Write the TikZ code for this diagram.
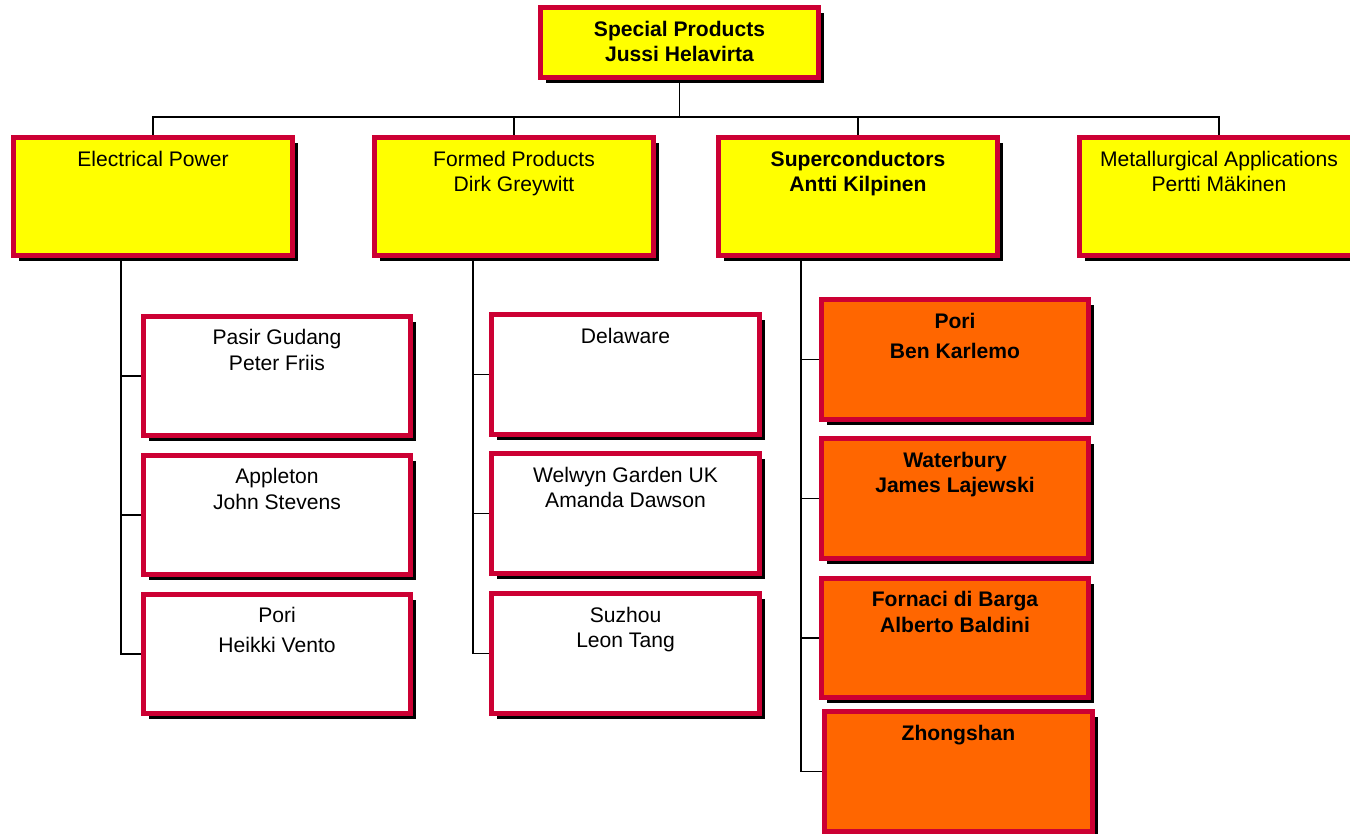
\documentclass[tikz,border=0pt]{standalone}
\usepackage{fontspec}
\setmainfont{Liberation Sans}
\usetikzlibrary{shadows,backgrounds}
\definecolor{rim}{HTML}{CC0033}
\definecolor{gold}{HTML}{FFFF00}
\definecolor{amber}{HTML}{FF6600}

\begin{document}
\begin{tikzpicture}[x=0.02cm,y=-0.02cm,
  box/.style={draw=rim,line width=3pt,inner sep=0pt,
    drop shadow={shadow xshift=0.11cm,shadow yshift=-0.11cm,fill=black,opacity=1}},
  head/.style={box,fill=gold,minimum width=5.574cm,minimum height=2.354cm},
  unit/.style={box,fill=white,minimum width=5.354cm,minimum height=2.394cm},
  hot/.style={unit,fill=amber},
  txt/.style={font=\fontsize{12}{14.7}\selectfont,align=center,inner sep=0pt,anchor=north,yshift=-0.31cm},
  bold/.style={txt,font=\bfseries\fontsize{12}{14.7}\selectfont},
  wire/.style={line width=1.1pt,draw=black}]
\useasboundingbox (0,0) rectangle (1350,833);
\node[head,minimum height=1.394cm,label={[bold]north:{Special Products\\Jussi Helavirta}}] (sp) at (679.5,42.5) {};
\node[head,label={[txt]north:{Electrical Power}}] (ep) at (153,196.5) {};
\node[head,label={[txt]north:{Formed Products\\Dirk Greywitt}}] (fp) at (514,196.5) {};
\node[head,label={[bold]north:{Superconductors\\Antti Kilpinen}}] (sc) at (858,196.5) {};
\node[head,label={[txt]north:{Metallurgical Applications\\Pertti Mäkinen}}] (ma) at (1219,196.5) {};
\node[unit,label={[txt]north:{Pasir Gudang\\Peter Friis}}] (pg) at (277,376) {};
\node[unit,label={[txt]north:{Appleton\\John Stevens}}] (ap) at (277,515) {};
\node[unit,label={[txt]north:{Pori\\[2.3pt]Heikki Vento}}] (ph) at (277,654) {};
\node[unit,label={[txt]north:{Delaware}}] (de) at (625.5,374.5) {};
\node[unit,label={[txt]north:{Welwyn Garden UK\\Amanda Dawson}}] (wg) at (625.5,513.5) {};
\node[unit,label={[txt]north:{Suzhou\\Leon Tang}}] (sz) at (625.5,653.5) {};
\node[hot,label={[bold]north:{Pori\\[2.3pt]Ben Karlemo}}] (pb) at (955,359.5) {};
\node[hot,label={[bold]north:{Waterbury\\James Lajewski}}] (wb) at (955,498.5) {};
\node[hot,label={[bold]north:{Fornaci di Barga\\Alberto Baldini}}] (fb) at (955,638) {};
\node[hot,label={[bold]north:{Zhongshan}}] (zh) at (958.5,771.5) {};
\coordinate (bar) at (0,117);
\coordinate (epl) at (121,0);
\coordinate (fpl) at (473,0);
\coordinate (scl) at (801,0);
\begin{scope}[on background layer]
\draw[wire] (sp.south) -- (sp.south |- bar);
\draw[wire] (ep.north) |- (bar -| ma.north) -- (ma.north);
\draw[wire] (fp.north) -- (fp.north |- bar);
\draw[wire] (sc.north) -- (sc.north |- bar);
\foreach \n in {pg,ap,ph} \draw[wire] (ep.south -| epl) |- (\n.west);
\foreach \n in {de,wg,sz} \draw[wire] (fp.south -| fpl) |- (\n.west);
\foreach \n in {pb,wb,fb,zh} \draw[wire] (sc.south -| scl) |- (\n.west);
\end{scope}
\end{tikzpicture}
\end{document}
